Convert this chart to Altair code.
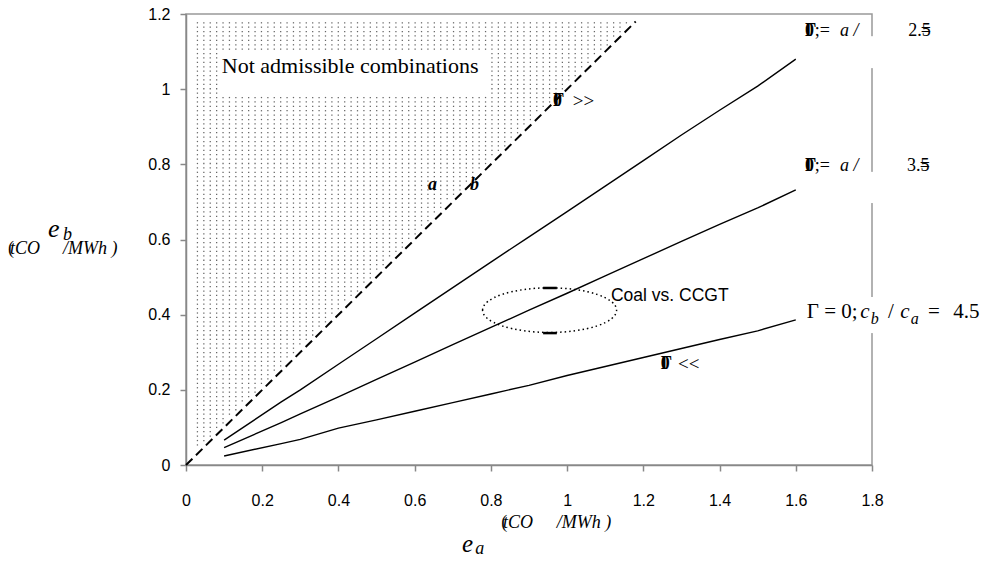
import altair as alt
import pandas as pd

# ---------------- data ----------------
x_vals = [0.1, 0.25, 0.3, 0.4, 0.5, 0.6, 0.7, 0.8, 0.9, 1.0, 1.1, 1.2, 1.3, 1.4, 1.5, 1.6]
line_25 = [0.066, 0.168, 0.200, 0.268, 0.336, 0.404, 0.472, 0.540, 0.607, 0.674, 0.742, 0.810, 0.878, 0.944, 1.008, 1.080]
line_35 = [0.046, 0.113, 0.136, 0.181, 0.228, 0.274, 0.320, 0.366, 0.412, 0.457, 0.503, 0.549, 0.595, 0.640, 0.684, 0.732]
line_45 = [0.024, 0.057, 0.068, 0.098, 0.120, 0.143, 0.166, 0.189, 0.212, 0.238, 0.262, 0.286, 0.310, 0.334, 0.357, 0.386]
series_names = ["2.5", "3.5", "4.5"]
diag_x = [0.0, 1.18]
diag_y = [0.0, 1.18]
x_ticks = [0, 0.2, 0.4, 0.6, 0.8, 1.0, 1.2, 1.4, 1.6, 1.8]
y_ticks = [0, 0.2, 0.4, 0.6, 0.8, 1.0, 1.2]

# ---------------- scales / axes ----------------
XS = alt.Scale(domain=[0, 1.8], nice=False, zero=False)
YS = alt.Scale(domain=[0, 1.2], nice=False, zero=False)
AX = alt.Axis(values=x_ticks, format="~g", title=None, grid=False, tickSize=6,
              labelPadding=21, labelFontSize=16, labelFont="Liberation Sans",
              labelColor="black", domainColor="#888", tickColor="#888",
              domainWidth=1.5, tickWidth=1.5, labelFlush=False)
AY = alt.Axis(values=y_ticks, format="~g", title=None, grid=False, tickSize=6,
              labelPadding=10, labelFontSize=16, labelFont="Liberation Sans",
              labelColor="black", domainColor="#888", tickColor="#888",
              domainWidth=1.5, tickWidth=1.5, labelFlush=False)


def X(f):
    return alt.X(f, type="quantitative", scale=XS, axis=AX)


def Y(f):
    return alt.Y(f, type="quantitative", scale=YS, axis=AY)


# ---------------- dotted "not admissible" region (texture) ----------------
dots = (
    alt.Chart(alt.sequence(0, 7000, as_="i"))
    .transform_calculate(
        xd="0.03 + (datum.i % 70) * 0.0168",
        yd="0.03 + floor(datum.i / 70) * 0.0117",
    )
    .transform_filter(
        "datum.yd > datum.xd + 0.012 && datum.yd < 1.182 && "
        "!(datum.xd > 0.084 && datum.xd < 0.792 && datum.yd > 0.985 && datum.yd < 1.104)"
    )
    .mark_square(size=1.6, color="#666", opacity=1)
    .encode(x=X("xd"), y=Y("yd"))
)

# white boxes that interrupt the right frame line
gap_df = pd.DataFrame({
    "x": [1.79, 1.79, 1.79], "x2": [1.81, 1.81, 1.81],
    "y": [1.056, 0.697, 0.351], "y2": [1.141, 0.780, 0.447],
})
gaps = alt.Chart(gap_df).mark_rect(fill="white").encode(
    x=X("x"), x2="x2", y=Y("y"), y2="y2")

# ---------------- curves ----------------
rows = []
for name, vals in zip(series_names, [line_25, line_35, line_45]):
    for xv, yv in zip(x_vals, vals):
        rows.append({"x": xv, "y": yv, "s": name})
lines_df = pd.DataFrame(rows)
lines = alt.Chart(lines_df).mark_line(color="black", strokeWidth=1.4).encode(
    x=X("x"), y=Y("y"), detail="s:N")

diag = alt.Chart(pd.DataFrame({"x": diag_x, "y": diag_y})).mark_line(
    color="black", strokeWidth=2, strokeDash=[9, 5]).encode(x=X("x"), y=Y("y"))

# ---------------- ellipse "Coal vs. CCGT" ----------------
ELLIPSE = ("M -1 0 C -1 -0.184 -0.552 -0.333 0 -0.333 C 0.552 -0.333 1 -0.184 1 0 "
           "C 1 0.184 0.552 0.333 0 0.333 C -0.552 0.333 -1 0.184 -1 0 Z")
ellipse = alt.Chart(pd.DataFrame({"x": [0.954], "y": [0.412]})).mark_point(
    shape=ELLIPSE, size=17956, filled=False, color="black", strokeWidth=1.5,
    strokeDash=[1.5, 3], opacity=1).encode(x=X("x"), y=Y("y"))
handles = alt.Chart(pd.DataFrame({"x": [0.937, 0.937], "x2": [0.973, 0.973],
                                  "y": [0.471, 0.351]})).mark_rule(
    color="black", strokeWidth=2.5).encode(x=X("x"), x2="x2", y=Y("y"))


# ---------------- text ----------------
def txt(items, size=18, font="Liberation Serif", style="normal", weight="normal",
        baseline="middle"):
    df = pd.DataFrame(items, columns=["t", "x", "y"])
    return alt.Chart(df).mark_text(
        font=font, fontSize=size, fontStyle=style, fontWeight=weight,
        align="left", baseline=baseline, color="black",
    ).encode(x=X("x"), y=Y("y"), text="t:N")


texts = [
    txt([("Not admissible combinations", 0.094, 1.062)], size=22),
    txt([("Coal vs. CCGT", 1.115, 0.450)], size=17.5, font="Liberation Sans"),
    # garbled equation fragments at the curve ends
    txt([("Γ", 1.624, 1.155), ("0", 1.624, 1.155), ("Γ", 1.624, 0.796), ("0", 1.624, 0.796),
         ("Γ", 0.963, 0.969), ("0", 0.963, 0.969), ("Γ", 1.246, 0.269), ("0", 1.246, 0.269)],
        size=18, weight="bold"),
    txt([(";=", 1.650, 1.155), (";=", 1.650, 0.796),
         ("2.5", 1.895, 1.155), ("=", 1.928, 1.155),
         ("3.5", 1.892, 0.796), ("=", 1.925, 0.796)], size=18),
    txt([("a /", 1.716, 1.155), ("a /", 1.716, 0.796)], size=18, style="italic"),
    txt([(">>", 1.015, 0.969), ("<<", 1.291, 0.269)], size=19),
    txt([("a", 0.635, 0.745), ("b", 0.745, 0.745)], size=18, style="italic", weight="bold"),
    # Γ = 0; c_b / c_a = 4.5
    txt([("Γ = 0;", 1.629, 0.407), ("/", 1.842, 0.407), ("=", 1.947, 0.407),
         ("4.5", 2.013, 0.407)], size=21),
    txt([("c", 1.769, 0.407), ("c", 1.874, 0.407)], size=21, style="italic"),
    txt([("b", 1.797, 0.389), ("a", 1.902, 0.389)], size=16, style="italic"),
    # y-axis title
    txt([("e", -0.362, 0.628)], size=26, style="italic"),
    txt([("b", -0.323, 0.613)], size=18, style="italic"),
    txt([("(", -0.467, 0.575), ("(", 0.827, -0.154)], size=18),
    txt([("tCO", -0.462, 0.575), ("/MWh )", -0.323, 0.575),
         ("tCO", 0.832, -0.154), ("/MWh )", 0.973, -0.154)], size=18, style="italic"),
    # x-axis title
    txt([("e", 0.724, -0.232)], size=25, style="italic", baseline="alphabetic"),
    txt([("a", 0.759, -0.238)], size=18, style="italic", baseline="alphabetic"),
]

chart = (
    alt.layer(dots, gaps, lines, diag, ellipse, handles, *texts)
    .properties(
        width=686, height=451,
        padding={"left": 178, "top": 6, "right": 113, "bottom": 92},
        autosize=alt.AutoSizeParams(type="none"),
        background="white",
    )
    .configure_view(stroke="#999", strokeWidth=1.5)
)

chart.save("out.html", embed_options={"renderer": "svg", "actions": False})
